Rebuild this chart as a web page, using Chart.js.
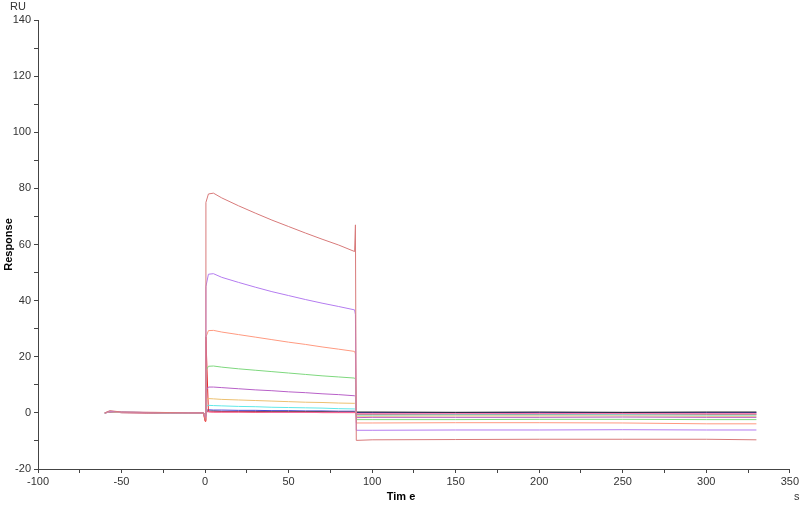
<!DOCTYPE html>
<html>
<head>
<meta charset="utf-8">
<script src="https://cdn.jsdelivr.net/npm/chart.js@4/dist/chart.umd.min.js"></script>
<style>
  body { margin: 0; background: #fff; }
  #wrap { width: 801px; height: 505px; }
</style>
</head>
<body>
<div id="wrap"><canvas id="sensorgram"></canvas></div>
<script>
// time points (s) shared by every curve
const times = [-60, -57, -50, -30, -10, -1, 0, 0.5, 2, 5, 10, 20, 30, 40, 50, 60, 70, 80, 89.5, 90, 90.5, 100, 150, 200, 250, 300, 330];

// responses (RU), one array per concentration
const red1    = [0, 0.8, 0.3, 0.2, 0, 0, -2.5, 75, 78, 78.3, 76.6, 73.8, 71.2, 68.7, 66.4, 64.1, 61.9, 59.8, 57.5, 67, -9.8, -9.6, -9.5, -9.4, -9.4, -9.4, -9.6];
const purple  = [0, 0.6, 0.3, 0.1, 0, 0, -1.5, 45, 49.4, 49.6, 48.3, 46.5, 44.8, 43.2, 41.8, 40.4, 39.1, 37.9, 36.7, 35, -6.2, -6.2, -6.1, -6.1, -6.0, -6.1, -6.1];
const salmon  = [0, 0.5, 0.2, 0.1, 0, 0, -1, 27, 29.3, 29.4, 28.8, 27.9, 27.0, 26.1, 25.2, 24.4, 23.5, 22.7, 21.9, 21, -3.6, -3.6, -3.5, -3.5, -3.6, -3.9, -3.9];
const green   = [0, 0.5, 0.2, 0.1, 0, 0, -1, 15, 16.6, 16.7, 16.3, 15.7, 15.2, 14.7, 14.2, 13.7, 13.2, 12.8, 12.4, 12, -2.4, -2.4, -2.4, -2.3, -2.3, -2.4, -2.4];
const magenta = [0, 0.4, 0.2, 0.1, 0, 0, -1, 8, 9.2, 9.2, 9.0, 8.6, 8.2, 7.9, 7.5, 7.2, 6.8, 6.5, 6.1, 6, -1.7, -1.6, -1.6, -1.6, -1.5, -1.6, -1.6];
const orange  = [0, 0.4, 0.2, 0.1, 0, 0, -1, 4.5, 5.1, 5.0, 4.8, 4.6, 4.4, 4.2, 4.0, 3.8, 3.7, 3.5, 3.4, 3.3, -1.2, -1.2, -1.1, -1.1, -1.1, -1.2, -1.2];
const cyan    = [0, 0.4, 0.2, 0.1, 0, 0, -1, 2.3, 2.7, 2.6, 2.5, 2.3, 2.2, 2.0, 1.9, 1.8, 1.7, 1.5, 1.4, 1.3, -0.8, -0.8, -0.7, -0.7, -0.7, -0.8, -0.8];
const blue    = [0, 0.3, 0.2, 0.1, 0, 0, -0.5, 0.9, 1.1, 1.0, 1.0, 0.9, 0.9, 0.8, 0.8, 0.7, 0.7, 0.6, 0.6, 0.5, 0.1, 0.1, 0.1, 0.1, 0.1, 0.1, 0.1];
const black   = [0, 0.3, 0.1, 0, 0, 0, -0.5, 0.5, 0.6, 0.6, 0.5, 0.5, 0.5, 0.4, 0.4, 0.4, 0.4, 0.3, 0.3, 0.3, 0.3, 0.3, 0.2, 0.3, 0.2, 0.3, 0.3];
const red2    = [0, 0.3, 0.1, 0, 0, 0, -3, 27, 0.4, 0.3, 0.3, 0.3, 0.2, 0.2, 0.2, 0.2, 0.1, 0.1, 0.1, 0.1, -0.5, -0.5, -0.5, -0.5, -0.4, -0.5, -0.5];
const pink    = [0, 0.3, 0.1, 0, 0, 0, -0.5, 0.3, 0.4, 0.3, 0.3, 0.3, 0.3, 0.2, 0.2, 0.2, 0.2, 0.2, 0.2, 0.2, -0.3, -0.3, -0.3, -0.2, -0.3, -0.3, -0.3];

const curves = [
  [red1, '#d87a7a'], [purple, '#b47cf0'], [salmon, '#ff9a80'], [green, '#7ed87e'],
  [magenta, '#b860c8'], [orange, '#ecc070'], [cyan, '#60e8e8'], [pink, '#ff70b0'],
  [red2, '#e82828'], [black, '#202020'], [blue, '#4848d8']
];

// unit labels and the x axis title, placed where the original software puts them
const extraLabels = {
  id: 'extraLabels',
  afterDraw(chart) {
    const c = chart.ctx;
    c.save();
    c.textBaseline = 'middle';
    c.fillStyle = '#333';
    c.font = '11px "Liberation Sans", Arial, sans-serif';
    c.textAlign = 'left';
    c.fillText('RU', 10, 7);
    c.fillText('s', 794, 497);
    c.fillStyle = '#000';
    c.font = 'bold 11px "Liberation Sans", Arial, sans-serif';
    c.textAlign = 'center';
    c.fillText('Tim e', 401, 497);
    c.restore();
  }
};

new Chart(document.getElementById('sensorgram'), {
  type: 'line',
  data: {
    datasets: curves.map(([vals, col]) => ({
      data: times.map((t, i) => ({ x: t, y: vals[i] })),
      borderColor: col,
      borderWidth: 1,
      pointRadius: 0,
      tension: 0
    }))
  },
  options: {
    responsive: true,
    maintainAspectRatio: false,
    animation: false,
    layout: { padding: { top: 20, right: 10, left: 0, bottom: 0 } },
    plugins: { legend: { display: false }, tooltip: { enabled: false } },
    scales: {
      x: {
        type: 'linear',
        min: -100, max: 350,
        afterFit: s => { s.height = 36; },
        border: { color: '#444', width: 1 },
        grid: { drawOnChartArea: false, tickLength: 4, color: '#444' },
        ticks: {
          stepSize: 25, autoSkip: false, maxRotation: 0, padding: 2,
          color: '#333', font: { size: 11, family: '"Liberation Sans", Arial' },
          callback: v => (v % 50 === 0 ? v : '')
        }
      },
      y: {
        min: -20, max: 140,
        afterFit: s => { s.width = 38; },
        border: { color: '#444', width: 1 },
        grid: { drawOnChartArea: false, tickLength: 4, color: '#444' },
        ticks: {
          stepSize: 10, autoSkip: false, padding: 3,
          color: '#333', font: { size: 11, family: '"Liberation Sans", Arial' },
          callback: v => (v % 20 === 0 ? v : '')
        },
        title: { display: true, text: 'Response', color: '#000', padding: { top: 2, bottom: 0 },
                 font: { size: 11, weight: 'bold', family: '"Liberation Sans", Arial' } }
      }
    }
  },
  plugins: [extraLabels]
});
</script>
</body>
</html>
